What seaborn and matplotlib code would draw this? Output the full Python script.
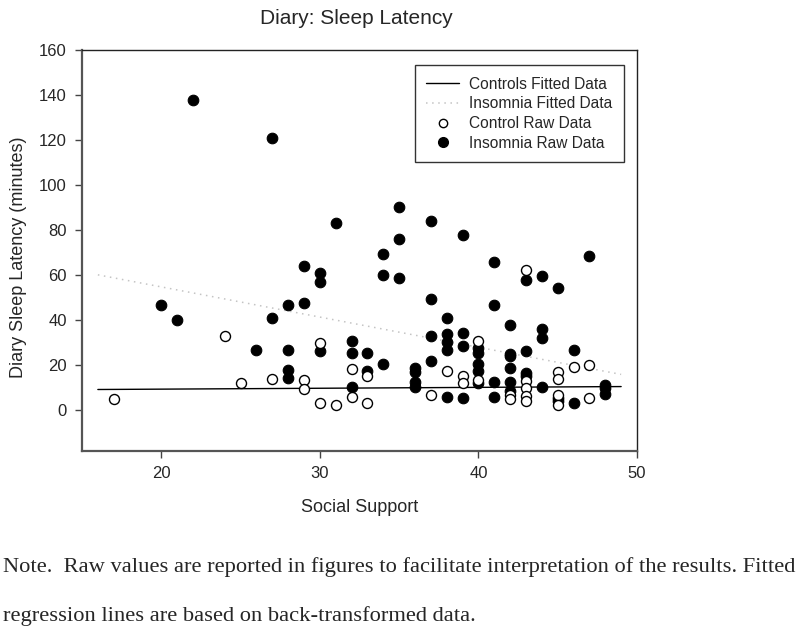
import matplotlib
matplotlib.use("Agg")
import matplotlib.pyplot as plt
import seaborn as sns
import pandas as pd
from matplotlib.lines import Line2D

# ---------------- data ----------------
control_x = [17, 24, 25, 27, 29, 29, 30, 30, 31, 32, 32, 33, 33, 37, 38, 39, 39,
             40, 40, 42, 42, 43, 43, 43, 43, 43, 45, 45, 45, 45, 46, 47, 47]
control_y = [5, 33, 12, 14, 13.5, 9.5, 30, 3.5, 2.5, 18.5, 6, 15.5, 3.5, 7, 17.5, 15.5, 12,
             31, 13.5, 7, 5, 62.5, 13, 10, 6.5, 4.3, 17, 14, 7, 2.5, 19.5, 20, 5.7]

insomnia_x = [20, 21, 22, 26, 27, 27, 28, 28, 28, 28, 29, 29, 30, 30, 30, 31,
              32, 32, 32, 33, 33, 34, 34, 34, 35, 35, 35, 36, 36, 36, 36,
              37, 37, 37, 37, 38, 38, 38, 38, 38, 39, 39, 39, 39,
              40, 40, 40, 40, 40, 41, 41, 41, 41, 42, 42, 42, 42, 42, 42,
              43, 43, 43, 43, 44, 44, 44, 44, 45, 45, 45, 46, 46, 47, 48, 48, 48]
insomnia_y = [47, 40, 138, 27, 121, 41, 47, 27, 18, 14.5, 64, 47.5, 61, 57, 26.5, 83,
              31, 25.5, 10.5, 25.5, 17.5, 69.5, 60, 20.5, 90.5, 76, 59, 19, 17, 12.5, 10.5,
              84, 49.5, 33, 22, 41, 34, 30.5, 27, 6, 78, 34.5, 28.5, 5.5,
              27.5, 25.5, 20.5, 17.5, 12.3, 66, 47, 12.5, 6, 38, 25, 24, 19, 12.5, 8.5,
              58, 26.5, 16.5, 15.5, 59.5, 36, 32, 10.3, 54.5, 5.5, 4, 27, 3.5, 68.5, 11.3, 10, 7.3]

fit_x = [16, 49]
control_fit_y = [9.3, 10.6]
insomnia_fit_y = [60.2, 16.0]

x_ticks = [20, 30, 40, 50]
y_ticks = [0, 20, 40, 60, 80, 100, 120, 140, 160]

title = "Diary: Sleep Latency"
x_label = "Social Support"
y_label = "Diary Sleep Latency (minutes)"
legend_labels = ["Controls Fitted Data", "Insomnia Fitted Data",
                 "Control Raw Data", "Insomnia Raw Data"]
note_line1 = "Note.  Raw values are reported in figures to facilitate interpretation of the results. Fitted"
note_line2 = "regression lines are based on back-transformed data."

# ---------------- style ----------------
sns.set_style("white")
plt.rcParams['font.family'] = ['Liberation Sans', 'DejaVu Sans']

fig = plt.figure(figsize=(8.0, 6.32), dpi=100)
ax = fig.add_axes([82 / 800, 1 - 451 / 632, (637 - 82) / 800, (451 - 50) / 632])

ctrl_df = pd.DataFrame({"x": control_x, "y": control_y})
ins_df = pd.DataFrame({"x": insomnia_x, "y": insomnia_y})
ctrl_fit_df = pd.DataFrame({"x": fit_x, "y": control_fit_y})
ins_fit_df = pd.DataFrame({"x": fit_x, "y": insomnia_fit_y})

sns.lineplot(data=ins_fit_df, x="x", y="y", ax=ax, color="#c4c4c4",
             linestyle=(0, (1, 3)), linewidth=1.1, zorder=1)
sns.lineplot(data=ctrl_fit_df, x="x", y="y", ax=ax, color="black",
             linewidth=1.0, zorder=2)
sns.scatterplot(data=ins_df, x="x", y="y", ax=ax, color="black", s=58,
                marker="o", edgecolor="black", linewidth=0.8, zorder=3)
sns.scatterplot(data=ctrl_df, x="x", y="y", ax=ax, facecolor="white", s=52,
                marker="o", edgecolor="black", linewidth=1.0, zorder=4)

ax.set_xlim(15, 50)
ax.set_ylim(-18, 160)
ax.set_xticks(x_ticks)
ax.set_yticks(y_ticks)
ax.tick_params(axis="both", direction="out", length=5, width=1, color="#444444",
               labelsize=12, pad=6, bottom=True, left=True)

for side in ["left", "bottom"]:
    ax.spines[side].set_color("#555555")
    ax.spines[side].set_linewidth(1.6)
for side in ["top", "right"]:
    ax.spines[side].set_color("#222222")
    ax.spines[side].set_linewidth(1.0)

ax.set_xlabel(x_label, fontsize=13)
ax.set_ylabel(y_label, fontsize=13)
ax.xaxis.set_label_coords(0.5, -0.12)
ax.yaxis.set_label_coords(-0.099, 0.483)

fig.text(356 / 800, 1 - 18 / 632, title, ha="center", va="center", fontsize=15)

handles = [
    Line2D([], [], color="black", linewidth=1.0),
    Line2D([], [], color="#c4c4c4", linestyle=(0, (1, 3)), linewidth=1.1),
    Line2D([], [], linestyle="none", marker="o", markersize=6, markerfacecolor="white",
           markeredgecolor="black", markeredgewidth=1.0),
    Line2D([], [], linestyle="none", marker="o", markersize=7, markerfacecolor="black",
           markeredgecolor="black"),
]
leg = ax.legend(handles, legend_labels, loc="upper right",
                bbox_to_anchor=((624 - 82) / 555, (451 - 65) / 401),
                frameon=True, fancybox=False, edgecolor="black", fontsize=11.2,
                handlelength=2.1, handletextpad=0.65, labelspacing=0.3,
                borderpad=0.75, borderaxespad=0)
leg.get_frame().set_linewidth(1.0)

fig.text(3 / 800, 1 - 567 / 632, note_line1, ha="left", va="center", fontsize=16.2,
         family=["Liberation Serif", "DejaVu Serif"])
fig.text(3 / 800, 1 - 616 / 632, note_line2, ha="left", va="center", fontsize=16.2,
         family=["Liberation Serif", "DejaVu Serif"])

fig.savefig("out.png", dpi=100)
